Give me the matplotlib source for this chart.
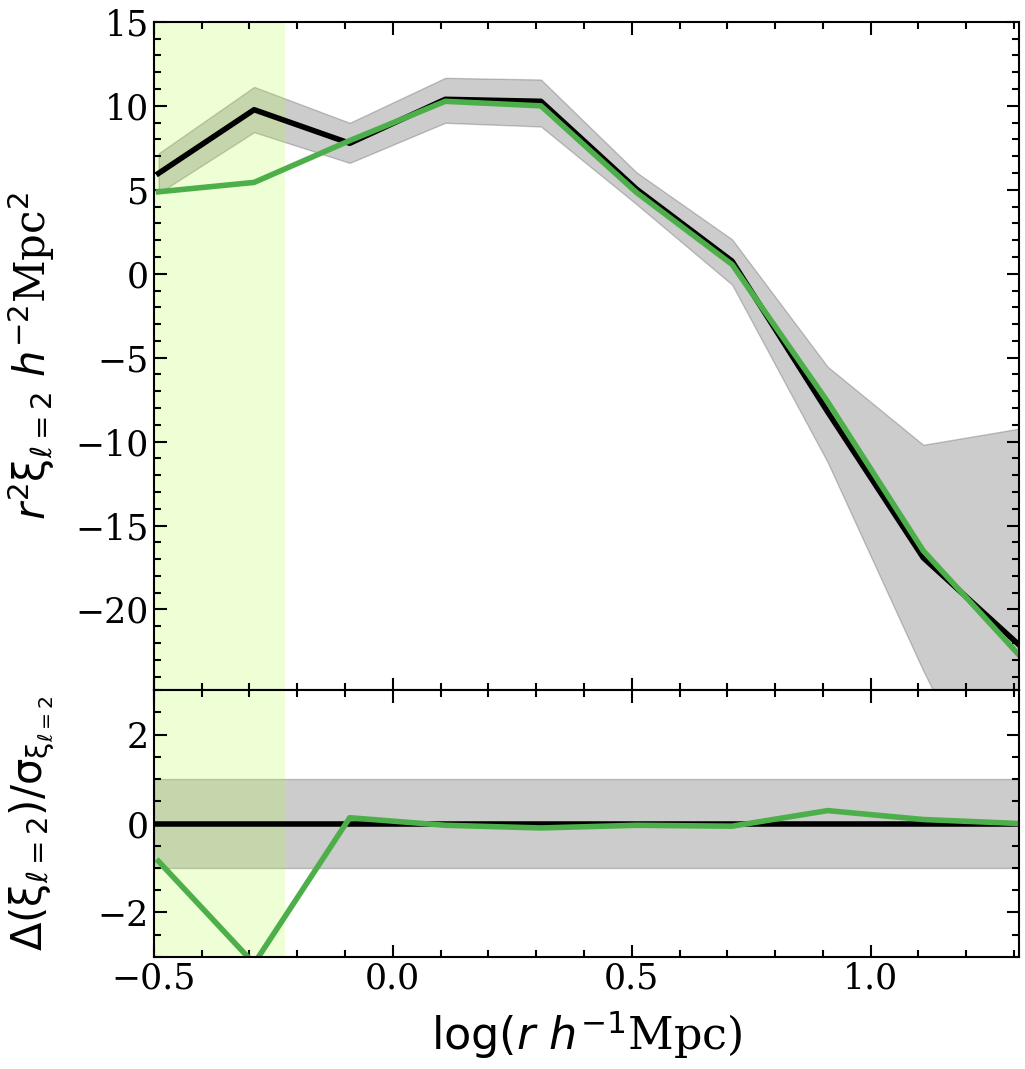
import matplotlib
matplotlib.use("Agg")
import matplotlib.pyplot as plt
from matplotlib.ticker import MultipleLocator
import numpy as np

# log(r) bin centres
logr = [-0.49, -0.29, -0.09, 0.11, 0.31, 0.51, 0.71, 0.91, 1.11, 1.31]
# measured r^2 xi_2 and its 1-sigma envelope
xi_data = [5.98, 9.77, 7.77, 10.39, 10.27, 5.04, 0.75, -8.23, -16.92, -22.1]
xi_upper = [7.17, 11.13, 8.99, 11.67, 11.57, 6.04, 2.05, -5.54, -10.19, -9.23]
xi_lower = [4.79, 8.43, 6.60, 8.99, 8.77, 4.14, -0.65, -11.23, -23.65, -35.0]
# model
xi_model = [4.88, 5.44, 7.93, 10.27, 10.0, 4.84, 0.55, -7.63, -16.5, -22.7]
# residual (model - data) / sigma
resid = [-0.85, -3.15, 0.13, -0.04, -0.10, -0.04, -0.06, 0.29, 0.09, 0.0]

span_lo, span_hi = -0.5, -0.226
green = "#4daf4a"

plt.rcParams['font.family'] = 'serif'
plt.rcParams['xtick.labelsize'] = 25
plt.rcParams['ytick.labelsize'] = 25

fig = plt.figure(figsize=(10.25, 10.69), dpi=100)
ax1 = fig.add_axes([0.150, 0.3545, 0.844, 0.625])
ax2 = fig.add_axes([0.150, 0.1048, 0.844, 0.2497], sharex=ax1)

# top panel
ax1.fill_between(logr, xi_lower, xi_upper, color='k', alpha=0.2)
ax1.axvspan(span_lo, span_hi, color='greenyellow', alpha=0.2, lw=0)
ax1.plot(logr, xi_data, color='k', lw=4)
ax1.plot(logr, xi_model, color=green, lw=4)
ax1.set_ylim(-24.8, 15)
ax1.yaxis.set_major_locator(MultipleLocator(5))
ax1.yaxis.set_minor_locator(MultipleLocator(1))
ax1.set_ylabel(r'$r^2\mathrm{\xi}_{\ell=2}\ h^{-2}$Mpc$^2$', fontsize=30)
ax1.tick_params(labelbottom=False)

# bottom panel
ax2.axhspan(-1, 1, color='k', alpha=0.2)
ax2.axvspan(span_lo, span_hi, color='greenyellow', alpha=0.2, lw=0)
ax2.axhline(0, color='k', lw=4)
ax2.plot(logr, resid, color=green, lw=4)
ax2.set_ylim(-3, 3)
ax2.yaxis.set_major_locator(MultipleLocator(2))
ax2.yaxis.set_minor_locator(MultipleLocator(0.5))
ax2.set_ylabel(r'$\Delta(\mathrm{\xi}_{\ell=2})/\mathrm{\sigma}_{\mathrm{\xi}_{\ell=2}}$', fontsize=30)
ax2.set_xlabel(r'$\log(r\ h^{-1}$Mpc)', fontsize=32, labelpad=9)

ax1.set_xlim(-0.5, 1.31)
ax1.xaxis.set_major_locator(MultipleLocator(0.5))
ax1.xaxis.set_minor_locator(MultipleLocator(0.1))

for ax in (ax1, ax2):
    ax.tick_params(which='both', direction='in', top=True, right=True, width=1.5)
    ax.tick_params(which='major', length=9)
    ax.tick_params(which='minor', length=5)
    for s in ax.spines.values():
        s.set_linewidth(1.5)

ax1.yaxis.set_label_coords(-0.112, 0.5)
ax2.yaxis.set_label_coords(-0.112, 0.5)

fig.savefig("out.png", dpi=100)
